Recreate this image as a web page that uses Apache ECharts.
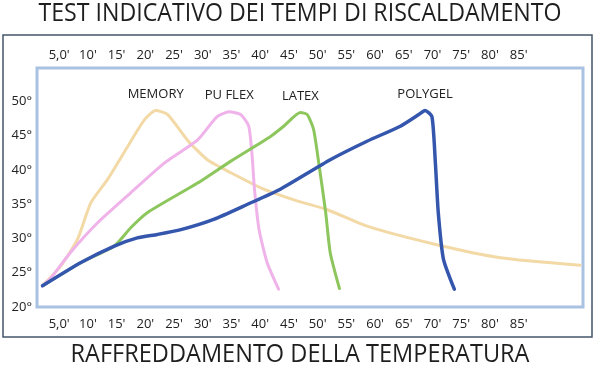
<!DOCTYPE html>
<html>
<head>
<meta charset="utf-8">
<script src="https://cdn.jsdelivr.net/npm/echarts@6/dist/echarts.min.js"></script>
<style>html,body{margin:0;padding:0;background:#fff;}#c{width:600px;height:368px;}</style>
</head>
<body>
<div id="c"></div>
<script>
// ---- data (time in minutes, temperature in °C) ----
const titleTop = 'TEST INDICATIVO DEI TEMPI DI RISCALDAMENTO';
const titleBottom = 'RAFFREDDAMENTO DELLA TEMPERATURA';
const xTicks = [5,10,15,20,25,30,35,40,45,50,55,60,65,70,75,80,85];
const yTicks = [20,25,30,35,40,45,50];
const seriesNames = ['MEMORY','PU FLEX','LATEX','POLYGEL'];
const memoryData = [[2.1,23.1],[5.3,26.0],[8.2,29.9],[10.5,35.2],[13.4,38.6],[16.9,43.4],[19.8,47.3],[21.8,48.7],[23.9,48.1],[27.3,44.4],[30.8,41.5],[34.9,39.6],[40.6,37.2],[46.4,35.5],[51.7,34.2],[58.6,31.8],[70.2,29.2],[81.8,27.2],[95.7,26.1]];
const puFlexData = [[2.1,23.1],[3.6,24.3],[7.0,28.0],[11.7,32.3],[17.5,36.7],[23.3,41.0],[29.1,44.4],[32.5,47.8],[34.6,48.5],[36.6,48.1],[38.0,46.4],[38.6,42.0],[39.0,37.2],[39.8,31.3],[41.2,26.5],[43.2,22.6]];
const latexData = [[2.1,23.1],[8.8,26.5],[14.6,28.9],[17.5,31.6],[20.4,33.8],[29.1,38.1],[34.9,41.3],[41.8,44.9],[44.1,46.4],[47.0,48.4],[48.2,48.1],[49.3,45.9],[50.2,41.0],[51.4,33.8],[52.2,27.9],[53.8,22.7]];
const polygelData = [[2.1,23.1],[8.8,26.5],[14.6,28.9],[18.6,30.1],[22.1,30.6],[26.2,31.3],[31.9,32.8],[37.8,35.0],[43.5,37.2],[52.2,41.5],[58.6,44.2],[64.4,46.4],[67.6,48.1],[68.7,48.7],[69.9,47.8],[70.5,41.0],[71.0,33.8],[71.9,27.0],[73.8,22.6]];
const peakIndex = [7, 8, 9, 13];
const colors = ['#f2d9a6','#efb3ea','#8cc65c','#3457ad'];
const widths = [3, 3, 3, 3.5];

// ---- helpers ----
const FONT = '"Open Sans", "Noto Sans", sans-serif';
function measure(text, size){
  const ctx = document.createElement('canvas').getContext('2d');
  ctx.font = size + 'px ' + FONT;
  return ctx.measureText(text).width;
}
const titleSize = 26;
const sTop = 523 / measure(titleTop, titleSize);
const sBot = 459 / measure(titleBottom, titleSize);

function withLabel(data, idx, name, color){
  return data.map((d,i)=> i===idx ? {
    value:d, symbol:'circle', symbolSize:2, itemStyle:{color:color},
    label:{show:true, position:'top', distance:9, formatter:name, color:'#222', fontSize:13, fontFamily:FONT}
  } : d);
}
const allData = [memoryData, puFlexData, latexData, polygelData];

const xMin = 1.14, xMax = 96.2;
const xLabelFmt = v => v === 5 ? "5,0'" : v + "'";

const chart = echarts.init(document.getElementById('c'));
chart.setOption({
  animation:false,
  backgroundColor:'#fff',
  grid:{left:37, right:17, top:68, bottom:61, show:true, borderColor:'#a9c2e2', borderWidth:3, backgroundColor:'#fff'},
  xAxis:[
    {type:'value', position:'bottom', min:xMin, max:xMax,
     axisLine:{show:false}, axisTick:{show:false}, splitLine:{show:false},
     axisLabel:{customValues:xTicks, formatter:xLabelFmt, color:'#222', fontSize:13, fontFamily:FONT, margin:11}},
    {type:'value', position:'top', min:xMin, max:xMax,
     axisLine:{show:false}, axisTick:{show:false}, splitLine:{show:false},
     axisLabel:{customValues:xTicks, formatter:xLabelFmt, color:'#222', fontSize:13, fontFamily:FONT, margin:6}}
  ],
  yAxis:{type:'value', min:20, max:54.9, interval:5,
    axisLine:{show:false}, axisTick:{show:false}, splitLine:{show:false},
    axisLabel:{customValues:yTicks, formatter:'{value}°', color:'#222', fontSize:13, fontFamily:FONT, margin:5}},
  series: allData.map((d,i)=>({
    name:seriesNames[i], type:'line', xAxisIndex:0, smooth:0.2,
    showSymbol:true, symbol:'none', z: i===3 ? 5 : 3,
    lineStyle:{color:colors[i], width:widths[i], cap:'round', join:'round'},
    labelLayout:{hideOverlap:false},
    data: withLabel(d, peakIndex[i], seriesNames[i], colors[i])
  })),
  graphic:[
    {type:'rect', shape:{x:3, y:35, width:589, height:302}, style:{fill:null, stroke:'#44566b', lineWidth:1.5}, silent:true, z:-1},
    {type:'text', x:300, y:14, scaleX:sTop, style:{text:titleTop, x:0, y:0, textAlign:'center', textVerticalAlign:'middle', fill:'#1e1e1e', font:titleSize + 'px ' + FONT}},
    {type:'text', x:300, y:355, scaleX:sBot, style:{text:titleBottom, x:0, y:0, textAlign:'center', textVerticalAlign:'middle', fill:'#1e1e1e', font:titleSize + 'px ' + FONT}}
  ]
});
</script>
</body>
</html>
